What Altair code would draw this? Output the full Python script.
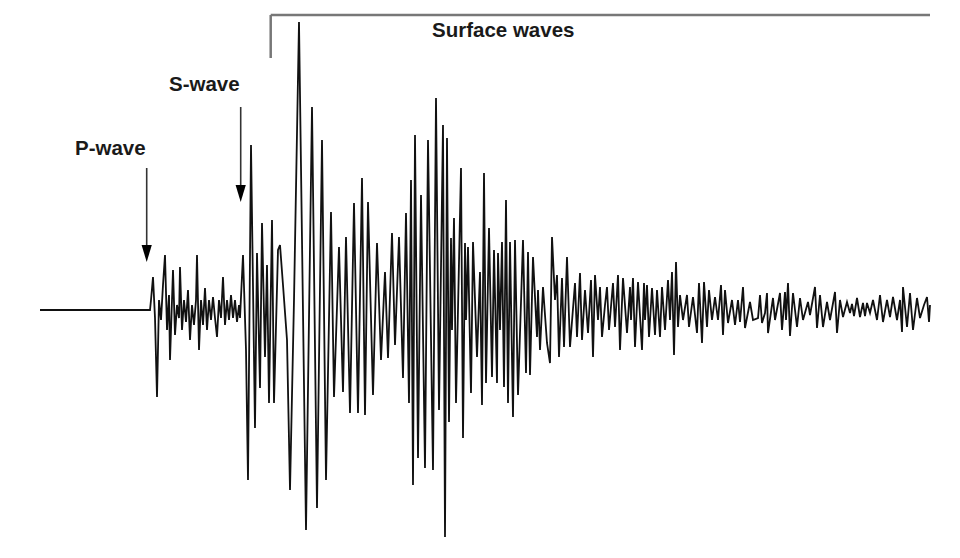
import altair as alt
import pandas as pd

# Seismogram trace: time (arbitrary units) and ground-motion amplitude (arbitrary units)
trace_t = [0, 110,
    111, 113, 115, 117, 119, 121, 123, 125, 127, 129, 130, 132, 133, 135, 137, 139, 140, 142,
    144, 146, 148, 150, 152, 154, 156, 157, 159, 161, 163, 165, 167, 169, 171, 173, 175, 177,
    179, 181, 183, 185, 187, 189, 191, 193, 195, 197, 199, 200,
    203, 206, 208, 211, 215, 217, 220, 222, 225, 227, 229, 232, 234, 238, 240, 243, 247, 250,
    254, 259, 266, 272, 277, 282, 286, 291, 294, 299, 303, 306, 310, 314, 318, 322, 325, 328,
    333, 337, 341, 345, 348, 352, 355, 359, 363, 366, 369, 371, 373, 375, 378, 381, 385, 388,
    393, 396, 399, 403, 405, 407, 409, 411, 412, 414, 416, 421, 423, 425, 426, 428, 431, 433,
    437, 440, 442, 444, 446, 449, 452, 454, 457, 458, 460, 462, 464, 466, 468, 470, 473, 475,
    478, 483, 486, 488, 490, 493, 497, 498, 500, 503, 507, 510, 512, 515, 517, 519, 522, 524,
    527, 530, 535, 537, 540, 542, 545, 548, 551, 553, 555, 558, 560, 562, 565, 567, 569, 573,
    575, 578, 580, 583, 587, 590, 591, 593, 595, 598, 602, 604, 605, 607, 609, 612, 615, 617,
    620, 622, 625, 628, 630, 632, 634, 636, 638, 640, 643, 647, 649, 653, 657, 659, 662, 664,
    667, 669, 672, 675, 678, 681, 683, 685, 688, 692, 695, 698, 700, 703, 705, 710, 713, 718,
    720, 722, 725, 727, 728, 733, 735, 740, 742, 745, 746, 748, 750, 753, 757, 760, 763, 768,
    770, 775, 777, 780, 783, 787, 790, 795, 797, 800, 803, 807, 810, 812, 814, 817, 820, 823,
    825, 827, 830, 833, 837, 840, 843, 847, 850, 853, 857, 860, 862, 863, 867, 870, 873, 877,
    880, 884, 887, 889, 890]

trace_amp = [0, 0,
    10, 33, -8, -87, 10, -10, 25, 55, -20, 15, -50, 10, 40, -25, 5, -8, 43, -20,
    10, -12, 20, -30, 5, -15, 10, 55, -40, 10, -15, 22, -20, 10, -10, 13, -8, -27,
    10, -8, 33, -15, 10, -10, 15, -8, 10, -12, 5, -8,
    55, -40, -170, 165, -118, 57, -78, 87, -47, 45, -93, 90, -93, 60, 65, 25, -30, -180,
    10, 288, -220, 203, -198, 170, -170, 98, -87, 63, -82, 73, -103, 107, -103, 132, -105, 108,
    -85, 67, -50, 38, -48, 77, -35, 73, -68, 97, -93, 130, -175, 175, -148, 115, -158, 170,
    -160, 212, -100, 185, -227, 172, -112, 72, -20, 92, -93, 142, -128, 67, -10, 63, -83, 68,
    -47, 38, -95, 137, -73, 82, -67, 60, -73, 57, -20, 68, -77, 110, -93, 68, -107, 70,
    -85, 70, -63, 58, -65, 53, -27, 20, -40, 23, -33, -53, 73, 10, 35, -47, 32, -37,
    53, -37, 27, -27, 37, -30, 20, -23, 30, -47, 35, -10, 23, -27, 5, 23, -20, 27,
    -17, 35, -40, 32, -23, 23, -10, 32, -37, 28, -40, 27, -10, 25, -27, 22, -25, 20,
    -27, 23, -20, 30, -10, 38, -45, 48, -17, 15, -10, 15, -17, 13, -23, 27, -33, 28,
    -17, 20, -10, 13, -10, 25, -25, 20, -13, 10, -15, 10, -12, 23, -18, 8, -10, -8,
    15, -13, -3, 17, -23, 12, -10, 17, -20, 18, -10, 27, -26, 17, -17, 12, -10, 8,
    -5, 23, -18, 15, -17, 8, -10, 18, -23, 10, -7, 8, -3, 6, -6, 12, -7, 7,
    -6, 7, -3, 10, -10, 15, -12, 10, -7, 13, -10, 10, -22, 23, -17, 17, -20, 12,
    -8, 5, 13, -12, 5]

# Phase labels
label_text = ["P-wave", "S-wave", "Surface waves"]
label_t = [35, 129, 392]
label_amp = [155, 219, 273]

# Arrival arrows (shaft start / end, head position)
arrow_t = [106.7, 200.7]
arrow_top = [142, 203]
arrow_bottom = [60, 122]
arrow_head = [56.5, 116.5]

# Surface-wave bracket
bracket_t_start = [230.7]
bracket_t_end = [890]
bracket_amp = [295]
bracket_tick_bottom = [252]

trace = pd.DataFrame({"t": trace_t, "amp": trace_amp})
labels = pd.DataFrame({"text": label_text, "t": label_t, "amp": label_amp})
arrows = pd.DataFrame({"t": arrow_t, "top": arrow_top, "bottom": arrow_bottom, "head": arrow_head})
bracket = pd.DataFrame({"t": bracket_t_start, "t2": bracket_t_end, "amp": bracket_amp,
                        "low": bracket_tick_bottom})

xs = alt.Scale(domain=[-32, 912], zero=False, nice=False)
ys = alt.Scale(domain=[-240, 302], zero=False, nice=False)
X = lambda f: alt.X(f, type="quantitative", scale=xs, axis=None)
Y = lambda f: alt.Y(f, type="quantitative", scale=ys, axis=None)

line = alt.Chart(trace).mark_line(color="#111111", strokeWidth=1.8, strokeJoin="miter",
                                  strokeMiterLimit=4).encode(x=X("t"), y=Y("amp"))

text = alt.Chart(labels).mark_text(align="left", baseline="alphabetic", font="Liberation Sans",
                                   fontWeight="bold", fontSize=20.5, color="#1a1a1a").encode(
    x=X("t"), y=Y("amp"), text="text:N")

shafts = alt.Chart(arrows).mark_rule(color="#333333", strokeWidth=1.6).encode(
    x=X("t"), y=Y("top"), y2="bottom")

heads = alt.Chart(arrows).mark_point(shape="M-0.6,-1L0.6,-1L0,1Z", size=289, filled=True,
                                     color="#000000", opacity=1).encode(x=X("t"), y=Y("head"))

bracket_h = alt.Chart(bracket).mark_rule(color="#777777", strokeWidth=2.5).encode(
    x=X("t"), x2="t2", y=Y("amp"))
bracket_v = alt.Chart(bracket).mark_rule(color="#777777", strokeWidth=2.5).encode(
    x=X("t"), y=Y("amp"), y2="low")

chart = alt.layer(bracket_h, bracket_v, shafts, heads, line, text).properties(
    width=944, height=542, padding=0, background="white",
    autosize=alt.AutoSizeParams(type="fit", contains="padding"),
).configure_view(strokeWidth=0)

chart.save("out.html", embed_options={"renderer": "svg", "actions": False})
